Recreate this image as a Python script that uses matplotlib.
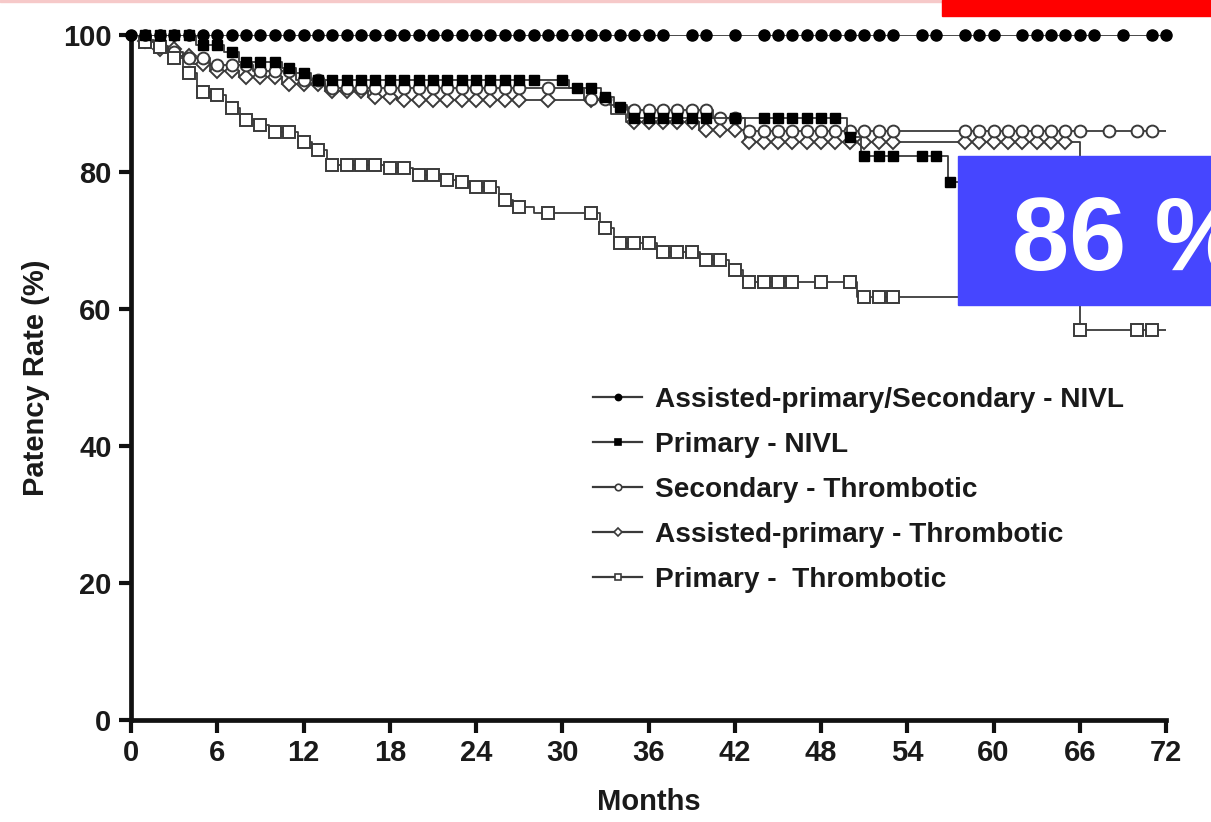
import matplotlib
matplotlib.use("Agg")
import matplotlib.pyplot as plt
from matplotlib.lines import Line2D
from matplotlib.patches import Rectangle
import numpy as np

plt.rcParams['font.family'] = ['Liberation Sans', 'DejaVu Sans']
plt.rcParams['font.weight'] = 'bold'
plt.rcParams['axes.labelweight'] = 'bold'

# --- data (months, % patent) ---
# Assisted-primary/Secondary - NIVL (filled circles)
nivl_ap_t = [0, 72]
nivl_ap_v = [100, 100]
nivl_ap_cens = [0, 1, 2, 3, 4, 5, 6, 7, 8, 9, 10, 11, 12, 13, 14, 15, 16, 17, 18, 19, 20,
                21, 22, 23, 24, 25, 26, 27, 28, 29, 30, 31, 32, 33, 34, 35, 36, 37, 39, 40,
                42, 44, 45, 46, 47, 48, 49, 50, 51, 52, 53, 55, 56, 58, 59, 60, 62, 63, 64,
                65, 66, 67, 69, 71, 72]

# Primary - NIVL (filled squares)
nivl_p_t = [0, 4.5, 6.5, 7.5, 10.5, 11.5, 12.5, 30.5, 32.7, 33.6, 34.6, 49.8, 50.8, 56.8, 62]
nivl_p_v = [100, 98.6, 97.5, 96.1, 95.2, 94.4, 93.5, 92.3, 91.0, 89.5, 87.9, 85.1, 82.3, 78.6, 78.6]
nivl_p_cens = [1, 2, 3, 4, 5, 6, 7, 8, 9, 10, 11, 12, 13, 14, 15, 16, 17, 18, 19, 20, 21, 22,
               23, 24, 25, 26, 27, 28, 30, 31, 32, 33, 34, 35, 36, 37, 38, 39, 40, 42, 44, 45,
               46, 47, 48, 49, 50, 51, 52, 53, 55, 56, 57]

# Secondary - Thrombotic (open circles)
thr_s_t = [0, 0.6, 1.6, 2.6, 3.6, 5.5, 8.5, 11.5, 13.5, 31.5, 33.3, 34.5, 40.5, 42.7, 72]
thr_s_v = [100, 99.3, 98.4, 97.5, 96.6, 95.6, 94.7, 93.5, 92.3, 90.7, 89.8, 89.1, 87.9, 86.0, 86.0]
thr_s_cens = [1, 2, 3, 4, 5, 6, 7, 8, 9, 10, 11, 12, 13, 14, 15, 16, 17, 18, 19, 20, 21, 22,
              23, 24, 25, 26, 27, 29, 32, 33, 35, 36, 37, 38, 39, 40, 41, 42, 43, 44, 45, 46,
              47, 48, 49, 50, 51, 52, 53, 58, 59, 60, 61, 62, 63, 64, 65, 66, 68, 70, 71]

# Assisted-primary - Thrombotic (open diamonds)
thr_ap_t = [0, 0.6, 1.6, 3.2, 4.3, 5.5, 7.5, 10.5, 13.5, 16.5, 18.5, 33.4, 34.4, 39.5, 42.7, 66]
thr_ap_v = [100, 99.1, 98.0, 96.9, 95.8, 94.8, 93.8, 92.9, 91.8, 91.0, 90.5, 88.4, 87.3, 86.2, 84.4, 76]
thr_ap_cens = [1, 2, 3, 4, 5, 6, 7, 8, 9, 10, 11, 12, 13, 14, 15, 16, 17, 18, 19, 20, 21, 22,
               23, 24, 25, 26, 27, 29, 32, 35, 36, 37, 38, 39, 40, 41, 42, 43, 44, 45, 46, 47,
               48, 49, 50, 51, 52, 53, 58, 59, 60, 61, 62, 63, 64, 65]

# Primary - Thrombotic (open squares)
thr_p_t = [0, 0.6, 1.6, 2.6, 3.6, 4.6, 5.6, 6.6, 7.6, 8.6, 9.6, 11.6, 12.6, 13.6, 17.6, 19.6,
           21.6, 22.6, 23.6, 25.6, 26.6, 28, 32.6, 33.6, 36.6, 39.6, 41.6, 42.6, 50.5, 66, 72]
thr_p_v = [100, 99.0, 98.2, 96.6, 94.4, 91.7, 91.2, 89.3, 87.6, 86.9, 85.8, 84.4, 83.2, 81.0,
           80.6, 79.6, 78.8, 78.5, 77.8, 75.9, 74.9, 74.0, 71.8, 69.6, 68.3, 67.2, 65.7, 63.9,
           61.8, 56.9, 56.9]
thr_p_cens = [1, 2, 3, 4, 5, 6, 7, 8, 9, 10, 11, 12, 13, 14, 15, 16, 17, 18, 19, 20, 21, 22,
              23, 24, 25, 26, 27, 29, 32, 33, 34, 35, 36, 37, 38, 39, 40, 41, 42, 43, 44, 45,
              46, 48, 50, 51, 52, 53, 66, 70, 71]

labels = ["Assisted-primary/Secondary - NIVL", "Primary - NIVL", "Secondary - Thrombotic",
          "Assisted-primary - Thrombotic", "Primary -  Thrombotic"]
x_ticks = [0, 6, 12, 18, 24, 30, 36, 42, 48, 54, 60, 66, 72]
y_ticks = [0, 20, 40, 60, 80, 100]
overlay_text = "86 %"


def level_at(t, v, c):
    idx = np.searchsorted(np.asarray(t), np.asarray(c, dtype=float), side="right") - 1
    return np.asarray(v)[idx]


LC = "#3a3a3a"
series = [
    (nivl_ap_t, nivl_ap_v, nivl_ap_cens, dict(marker="o", ms=8, mfc="black", mec="black"), 5),
    (nivl_p_t, nivl_p_v, nivl_p_cens, dict(marker="s", ms=7.2, mfc="black", mec="black"), 4),
    (thr_s_t, thr_s_v, thr_s_cens, dict(marker="o", ms=8.5, mfc="white", mec=LC, mew=1.4), 3),
    (thr_ap_t, thr_ap_v, thr_ap_cens, dict(marker="D", ms=6.8, mfc="white", mec=LC, mew=1.4), 2),
    (thr_p_t, thr_p_v, thr_p_cens, dict(marker="s", ms=8, mfc="white", mec=LC, mew=1.4), 3),
]

fig = plt.figure(figsize=(12.11, 8.22), dpi=100)
ax = fig.add_axes([131/1211, 102/822, 1035/1211, 685/822])

for t, v, c, mk, z in series:
    ax.step(t, v, where="post", color=LC, lw=1.3, zorder=z)
    ax.plot(c, level_at(t, v, c), ls="none", zorder=z + 0.5, clip_on=False, **mk)

ax.set_xlim(0, 72)
ax.set_ylim(0, 100)
ax.set_xticks(x_ticks)
ax.set_yticks(y_ticks)
for s in ["top", "right"]:
    ax.spines[s].set_visible(False)
for s in ["left", "bottom"]:
    ax.spines[s].set_linewidth(3.4)
    ax.spines[s].set_color("#111111")
ax.tick_params(direction="out", length=9, width=3, color="#111111", labelsize=21, pad=5,
               labelcolor="#1a1a1a")
ax.set_xlabel("Months", fontsize=21, labelpad=15, color="#1a1a1a")
ax.set_ylabel("Patency Rate (%)", fontsize=21, labelpad=9, color="#1a1a1a")

handles = [Line2D([], [], color=LC, lw=1.6, marker=m["marker"], ms=m["ms"] * 0.55,
                  mfc=m["mfc"], mec=m["mec"], mew=1.2) for _, _, _, m, _ in series]
leg = fig.legend(handles, labels, loc="upper left", bbox_to_anchor=(593/1211, 1 - 387/822),
                 frameon=False, fontsize=20.2, handlelength=1.75, handletextpad=0.45,
                 labelspacing=0.68, borderpad=0, borderaxespad=0)
for txt in leg.get_texts():
    txt.set_color("#1a1a1a")

# overlays on the image
fig.patches.append(Rectangle((0, 1 - 2/822), 1, 2/822, transform=fig.transFigure,
                             color="#f6c9c9", zorder=10))
fig.patches.append(Rectangle((942/1211, 1 - 16/822), 269/1211, 16/822, transform=fig.transFigure,
                             color="#ff0000", zorder=11))
fig.patches.append(Rectangle((958/1211, 1 - 305/822), 253/1211, 149/822, transform=fig.transFigure,
                             color="#4646ff", zorder=11))
fig.text(1012/1211, 1 - 270/822, overlay_text, color="white", fontsize=74, fontweight="bold",
         ha="left", va="baseline", zorder=12)

fig.savefig("out.png", dpi=100)
